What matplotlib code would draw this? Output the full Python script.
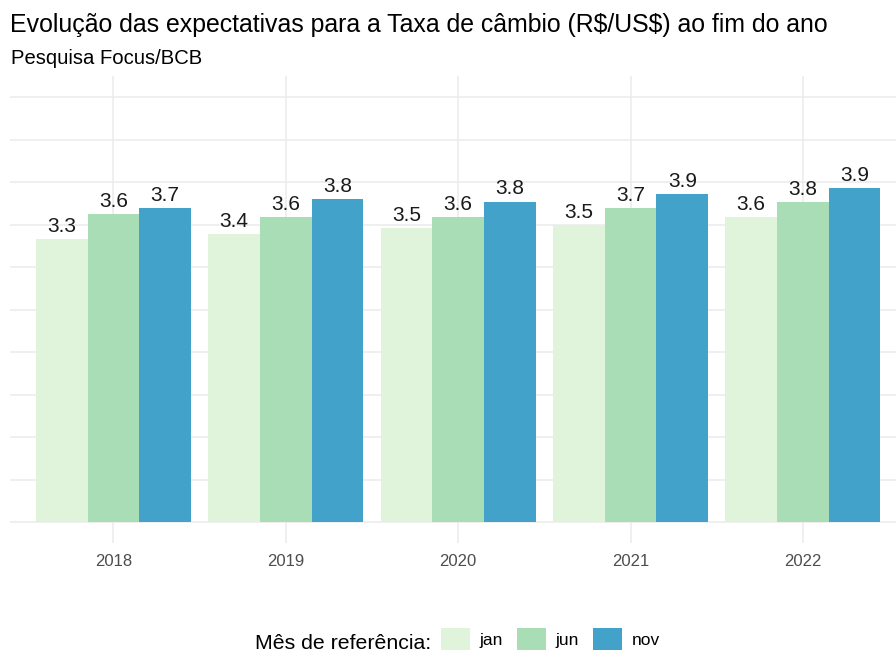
import matplotlib
matplotlib.use("Agg")
import matplotlib.pyplot as plt
import numpy as np
from matplotlib.patches import Patch

plt.rcParams['font.family'] = ['Liberation Sans', 'DejaVu Sans']
plt.rcParams['text.parse_math'] = False

anos = ['2018', '2019', '2020', '2021', '2022']
series = ['jan', 'jun', 'nov']
jan = [3.33, 3.39, 3.46, 3.49, 3.59]
jun = [3.62, 3.59, 3.59, 3.69, 3.76]
nov = [3.69, 3.80, 3.77, 3.86, 3.93]
cores = ['#e0f3db', '#a8ddb5', '#43a2ca']

titulo = 'Evolução das expectativas para a Taxa de câmbio (R$/US$) ao fim do ano'
subtitulo = 'Pesquisa Focus/BCB'
legenda_titulo = 'Mês de referência:'

W, H = 896, 653
fig = plt.figure(figsize=(W / 100, H / 100), dpi=100)

left_px, right_px, top_px, bot_px = 10, 896, 75.75, 543.25
ax = fig.add_axes([left_px / W, 1 - bot_px / H, (right_px - left_px) / W, (bot_px - top_px) / H])

x = np.arange(len(anos))
width = 0.3
offsets = [-0.3, 0.0, 0.3]
for vals, off, cor in zip([jan, jun, nov], offsets, cores):
    ax.bar(x + off, vals, width=width, color=cor, linewidth=0, zorder=2)
    for xi, v in zip(x + off, vals):
        ax.annotate(f'{v:.1f}', (xi, v), xytext=(0, 5.2), textcoords='offset points',
                    ha='center', va='baseline', fontsize=15, color='#1a1a1a', zorder=3)

ax.set_xlim(-0.6, (896 - 113.3) / 172.4)
ax.set_ylim(-0.25, 5.25)
ax.set_yticks(np.arange(0, 5.01, 0.5))
ax.set_yticklabels([])
ax.set_xticks(x)
ax.set_xticklabels(anos, fontsize=12, color='#4d4d4d')
ax.tick_params(axis='both', length=0)
ax.tick_params(axis='x', pad=8)
ax.grid(True, color='#ebebeb', linewidth=1.1, zorder=0)
ax.set_axisbelow(True)
for s in ax.spines.values():
    s.set_visible(False)

fig.text(10 / W, 1 - 31.7 / H, titulo, fontsize=17.95, va='baseline', ha='left', color='#000000')
fig.text(11 / W, 1 - 64.3 / H, subtitulo, fontsize=14.6, va='baseline', ha='left', color='#000000')

fig.text(255 / W, 1 - 649.3 / H, legenda_titulo, fontsize=15.3, va='baseline', ha='left', color='#000000')
handles = [Patch(facecolor=c, edgecolor='none') for c in cores]
leg = fig.legend(handles, series, ncol=3, loc='center left',
                 bbox_to_anchor=(441 / W, 1 - 639 / H), frameon=False,
                 fontsize=12.5, handlelength=1.67, handleheight=1.5,
                 handletextpad=0.57, columnspacing=0.79, borderpad=0, borderaxespad=0)

fig.savefig('out.png', dpi=100, facecolor='white')
